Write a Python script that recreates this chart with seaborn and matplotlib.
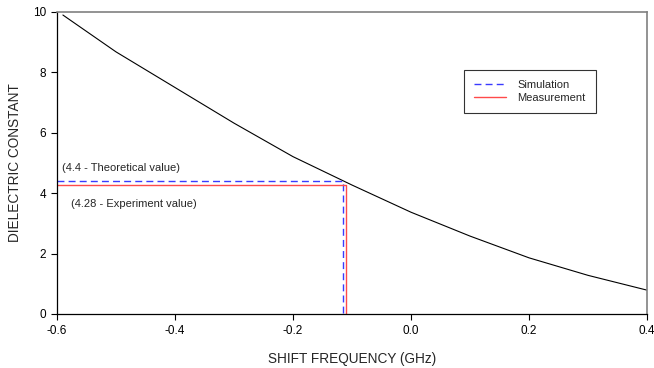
import matplotlib
matplotlib.use("Agg")
import matplotlib.pyplot as plt
import seaborn as sns
import pandas as pd

# data
shift_ghz = [-0.59, -0.5, -0.4, -0.3, -0.2, -0.1, 0.0, 0.1, 0.2, 0.3, 0.4]
dielectric = [9.90, 8.68, 7.50, 6.32, 5.21, 4.27, 3.37, 2.58, 1.86, 1.28, 0.79]

sim_value = 4.4
sim_shift = -0.115
meas_value = 4.28
meas_shift = -0.110

x_ticks = [-0.6, -0.4, -0.2, 0.0, 0.2, 0.4]
y_ticks = [0, 2, 4, 6, 8, 10]

sns.set_style("ticks")
plt.rcParams["font.family"] = ["Liberation Sans", "DejaVu Sans"]

fig, ax = plt.subplots(figsize=(6.54, 3.68), dpi=100)
fig.subplots_adjust(left=57/654, right=647/654, top=1-12/368, bottom=1-314/368)

curve = pd.DataFrame({"x": shift_ghz, "y": dielectric})
sns.lineplot(data=curve, x="x", y="y", ax=ax, color="black", linewidth=0.8,
             sort=False, estimator=None)

blue = "#3a3aff"
red = "#ff4a4a"
sim_h = pd.DataFrame({"x": [-0.6, sim_shift, sim_shift], "y": [sim_value, sim_value, 0]})
meas_h = pd.DataFrame({"x": [-0.6, meas_shift, meas_shift], "y": [meas_value, meas_value, 0]})
sns.lineplot(data=sim_h, x="x", y="y", ax=ax, color=blue, linewidth=1.0,
             linestyle=(0, (5, 3)), sort=False, estimator=None, label="Simulation")
sns.lineplot(data=meas_h, x="x", y="y", ax=ax, color=red, linewidth=1.0,
             sort=False, estimator=None, label="Measurement")

ax.set_xlim(-0.6, 0.4)
ax.set_ylim(0, 10)
ax.set_xticks(x_ticks)
ax.set_xticklabels([f"{v:.1f}" for v in x_ticks])
ax.set_yticks(y_ticks)
ax.set_yticklabels([str(v) for v in y_ticks])
ax.tick_params(axis="both", direction="out", length=4, width=0.8, labelsize=8.5, colors="black", pad=4)

for s in ["left", "bottom"]:
    ax.spines[s].set_color("black")
    ax.spines[s].set_linewidth(0.9)
for s in ["top", "right"]:
    ax.spines[s].set_visible(True)
    ax.spines[s].set_color("#808080")
    ax.spines[s].set_linewidth(1.2)

ax.set_xlabel("SHIFT FREQUENCY (GHz)", fontsize=9.8, labelpad=11)
ax.set_ylabel("DIELECTRIC CONSTANT", fontsize=9.8, labelpad=8)

ax.text(-0.592, 4.82, "(4.4 - Theoretical value)", fontsize=8, va="center", ha="left")
ax.text(-0.577, 3.63, "(4.28 - Experiment value)", fontsize=8, va="center", ha="left")

leg = ax.legend(loc="upper left", bbox_to_anchor=(0.69, 0.808), borderaxespad=0,
                fontsize=8, frameon=True, fancybox=False, handlelength=2.9,
                labelspacing=0.25, borderpad=0.9, handletextpad=1.0)
leg.get_frame().set_edgecolor("black")
leg.get_frame().set_linewidth(0.8)

fig.savefig("out.png", dpi=100)
